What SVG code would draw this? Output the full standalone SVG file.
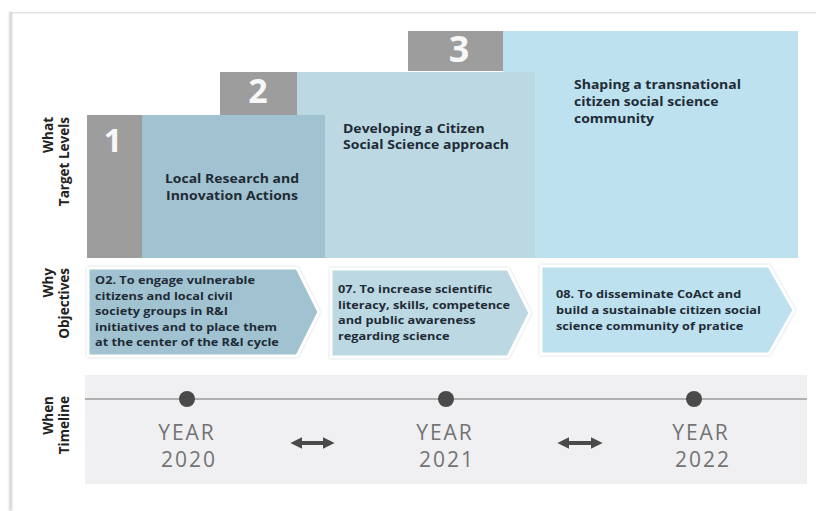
<svg xmlns="http://www.w3.org/2000/svg" width="816" height="511" viewBox="0 0 816 511">
<defs>
<style>
.lvl{font-family:"Open Sans","Liberation Sans",sans-serif;font-weight:700;font-size:12.4px;fill:#1f2b36}
.obj{font-family:"Open Sans","Liberation Sans",sans-serif;font-weight:700;font-size:10.8px;fill:#1f2b36}
.num{font-family:"Open Sans","Liberation Sans",sans-serif;font-weight:700;fill:#f7f7f7;text-anchor:middle}
.side{font-family:"Open Sans","Liberation Sans",sans-serif;font-weight:700;font-size:13.5px;fill:#222;text-anchor:end}
.year{font-family:"Open Sans","Liberation Sans",sans-serif;font-weight:400;font-size:21px;fill:#737373;text-anchor:middle;letter-spacing:2px}
.gray{fill:#9d9d9d}
.arrow{stroke:#ffffff;stroke-width:3;filter:url(#sh)}
.dot{fill:#4a4a4a}
.dbl{stroke:#4a4a4a;stroke-width:4;fill:none}
</style>
<filter id="sh" x="-5%" y="-10%" width="110%" height="120%">
<feDropShadow dx="0" dy="0" stdDeviation="1.2" flood-color="#b8c4c9" flood-opacity="0.8"/>
</filter>
<filter id="blur" x="-200%" y="-1%" width="500%" height="102%">
<feGaussianBlur stdDeviation="0.8"/>
</filter>
<clipPath id="c3"><rect x="408" y="31" width="95" height="40"/></clipPath>
<marker id="ah" viewBox="0 0 10 10" refX="7" refY="5" markerWidth="3" markerHeight="3" orient="auto-start-reverse">
<path d="M0,0 L10,5 L0,10 z" fill="#4a4a4a"/>
</marker>
</defs>
<rect width="816" height="511" fill="#ffffff"/>
<g id="frame">
<rect x="10" y="12" width="806" height="1.5" fill="#e4e4e4"/>
<rect x="9.5" y="12" width="2.2" height="499" fill="#c4c4c4" filter="url(#blur)"/>
</g>
<g id="level3">
<rect x="503" y="31" width="295" height="227" fill="#bde1ef"/>
<rect class="gray" x="408" y="31" width="95" height="40"/>
<text class="num" x="459" y="62" font-size="36" clip-path="url(#c3)">3</text>
<text class="lvl" transform="translate(574,0) scale(1.13,1)"><tspan x="0" y="89">Shaping a transnational</tspan><tspan x="0" y="106">citizen social science</tspan><tspan x="0" y="123">community</tspan></text>
</g>
<g id="level2">
<rect x="297" y="72" width="238" height="186" fill="#bcd9e3"/>
<rect class="gray" x="220" y="72" width="77" height="43"/>
<text class="num" x="258" y="103" font-size="34">2</text>
<text class="lvl" transform="translate(343,0) scale(1.13,1)"><tspan x="0" y="133">Developing a Citizen</tspan><tspan x="0" y="149">Social Science approach</tspan></text>
</g>
<g id="level1">
<rect x="142" y="115" width="183" height="143" fill="#a1c3d1"/>
<rect class="gray" x="87" y="115" width="55" height="143"/>
<text class="num" x="113" y="152" font-size="32">1</text>
<text class="lvl" text-anchor="middle" transform="translate(232,0) scale(1.13,1)"><tspan x="0" y="183">Local Research and</tspan><tspan x="0" y="200">Innovation Actions</tspan></text>
</g>
<g id="label-what">
<text class="side" transform="translate(53,117) rotate(-90)">What</text>
<text class="side" transform="translate(69,117) rotate(-90)">Target Levels</text>
</g>
<g id="label-why">
<text class="side" transform="translate(53,268) rotate(-90)">Why</text>
<text class="side" transform="translate(69,268) rotate(-90)">Objectives</text>
</g>
<g id="label-when">
<text class="side" transform="translate(53,396) rotate(-90)">When</text>
<text class="side" transform="translate(69,396) rotate(-90)">Timeline</text>
</g>
<g id="objective1">
<path class="arrow" d="M88,268 L297,268 L319,312 L297,356 L88,356 Z" fill="#a1c3d1"/>
<text class="obj" transform="translate(95,0) scale(1.18,1)"><tspan x="0" y="284">O2. To engage vulnerable</tspan><tspan x="0" y="300">citizens and local civil</tspan><tspan x="0" y="315">society groups in R&amp;I</tspan><tspan x="0" y="331">initiatives and to place them</tspan><tspan x="0" y="346">at the center of the R&amp;I cycle</tspan></text>
</g>
<g id="objective2">
<path class="arrow" d="M331,269 L508,269 L530,313 L508,357 L331,357 Z" fill="#bcd9e3"/>
<text class="obj" transform="translate(338,0) scale(1.18,1)"><tspan x="0" y="293">07. To increase scientific</tspan><tspan x="0" y="309">literacy, skills, competence</tspan><tspan x="0" y="324">and public awareness</tspan><tspan x="0" y="340">regarding science</tspan></text>
</g>
<g id="objective3">
<path class="arrow" d="M541,266 L769,266 L794,310 L769,354 L541,354 Z" fill="#bde1ef"/>
<text class="obj" transform="translate(556,0) scale(1.18,1)"><tspan x="0" y="298">08. To disseminate CoAct and</tspan><tspan x="0" y="314">build a sustainable citizen social</tspan><tspan x="0" y="330">science community of pratice</tspan></text>
</g>
<g id="timeline">
<rect x="85" y="375" width="722" height="109" fill="#f0f0f2"/>
<line x1="85" y1="399" x2="807" y2="399" stroke="#b0b0b0" stroke-width="2"/>
</g>
<g id="year2020">
<circle class="dot" cx="187" cy="399" r="8"/>
<text class="year" x="187" y="440">YEAR</text>
<text class="year" x="189" y="467">2020</text>
</g>
<g id="year2021">
<circle class="dot" cx="446" cy="399" r="8"/>
<text class="year" x="445" y="440">YEAR</text>
<text class="year" x="447" y="467">2021</text>
</g>
<g id="year2022">
<circle class="dot" cx="694" cy="399" r="8"/>
<text class="year" x="701" y="440">YEAR</text>
<text class="year" x="703" y="467">2022</text>
</g>
<g id="connectors">
<line class="dbl" x1="294" y1="443" x2="331" y2="443" marker-start="url(#ah)" marker-end="url(#ah)"/>
<line class="dbl" x1="561" y1="443" x2="599" y2="443" marker-start="url(#ah)" marker-end="url(#ah)"/>
</g>
</svg>
